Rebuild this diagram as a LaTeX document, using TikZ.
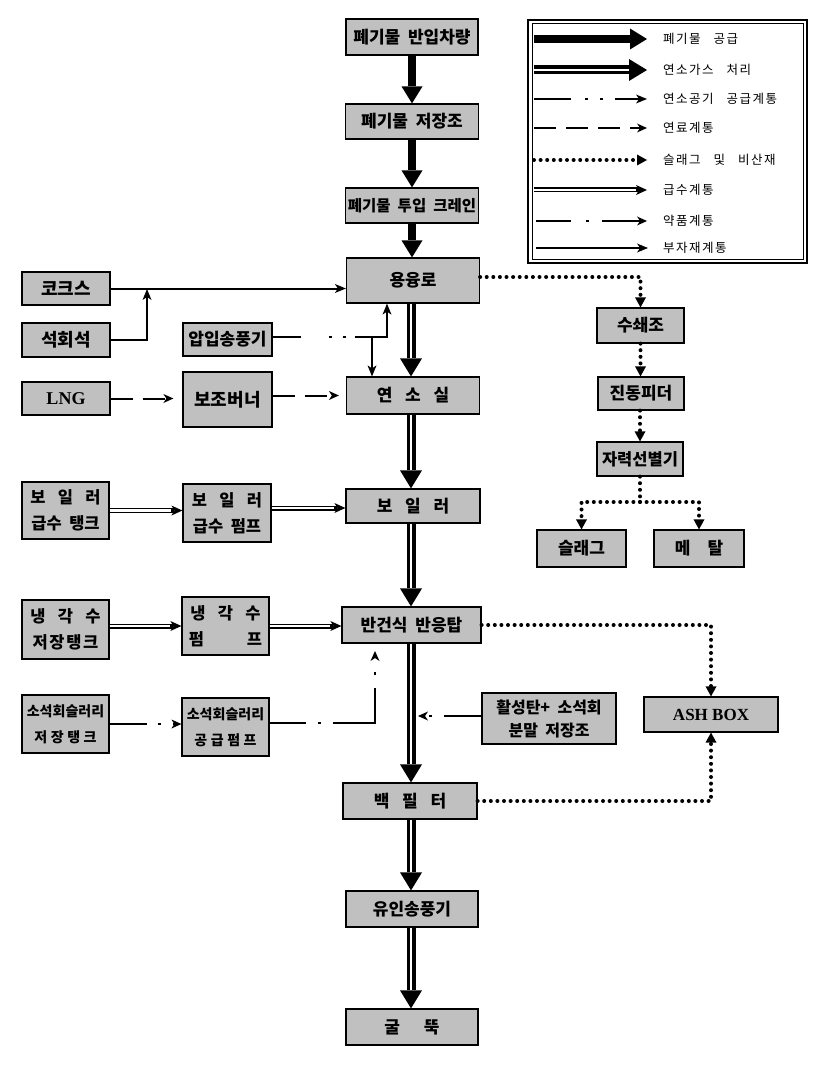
\documentclass[tikz,border=0pt]{standalone}
\usepackage{fontspec}
\usetikzlibrary{arrows.meta}
\newfontfamily\kr{Noto Sans CJK KR}[WordSpace=2]
\newfontfamily\krleg{Noto Sans CJK KR}[WordSpace=3,LetterSpace=12]
\newfontfamily\lat{Liberation Serif}
\newcommand\ws{\hspace{0.75em}}
\definecolor{boxgray}{RGB}{192,192,192}
\tikzset{
  box/.style={draw=black, fill=boxgray, line width=1.2pt, inner sep=0pt, align=center,
    font=\kr\bfseries\fontsize{17}{26}\selectfont},
  waste/.style={line width=8pt, -{Triangle[width=21pt,length=17pt,line width=0pt]}},
  gas/.style={line width=9pt, -{Triangle[width=22pt,length=18pt,line width=0pt]}},
  gasw/.style={white, line width=2.6pt, shorten >=18pt},
  sub/.style={line width=2pt, -{Stealth[length=11pt,width=9pt,inset=3pt,line width=0pt]}},
  water/.style={line width=5pt, -{Stealth[length=11pt,width=10pt,inset=3pt,line width=0pt]}},
  waterw/.style={white, line width=2.6pt, shorten >=11pt},
  airl/.style={line width=2pt, -{Stealth[length=11pt,width=9pt,inset=3pt,line width=0pt]}},
  fuel/.style={line width=2pt, dash pattern=on 22pt off 10pt, -{Stealth[length=10pt,width=9pt,inset=3pt,line width=0pt]}},
  chem/.style={line width=2pt, -{Stealth[length=10pt,width=9pt,inset=3pt,line width=0pt]}},
  dotl/.style={line width=4pt, line cap=round, dash pattern=on 0pt off 6.6pt},
  dota/.style={dotl, -{Triangle[width=11pt,length=10pt,line width=0pt]}},
  legtext/.style={anchor=west, inner sep=0pt, font=\krleg\fontsize{12.5}{14}\selectfont},
  big/.style={font=\kr\bfseries\fontsize{18}{22}\selectfont},
  two/.style={font=\kr\bfseries\fontsize{16.5}{26}\selectfont},
}
\begin{document}
\begin{tikzpicture}[x=1pt,y=-1pt]
\useasboundingbox (0,0) rectangle (821,1067);
\fill[white] (0,0) rectangle (821,1067);

% ---------- nodes ----------
\node[box, minimum width=132pt, minimum height=36pt] (ban) at (412,37) {폐기물 반입차량};
\node[box, minimum width=133pt, minimum height=35pt] (jeo) at (412,121.5) {폐기물 저장조};
\node[box, minimum width=133pt, minimum height=35pt, font=\kr\bfseries\fontsize{15.5}{20}\selectfont] (cra) at (412,205.5) {폐기물 투입 크레인};
\node[box, minimum width=133pt, minimum height=45pt] (yong) at (413,280.5) {용융로};
\node[box, big, minimum width=88pt, minimum height=33pt] (coke) at (66,288.5) {코크스};
\node[box, big, minimum width=88pt, minimum height=34pt] (lime) at (66,340) {석회석};
\node[box, big, minimum width=89pt, minimum height=33pt, font=\kr\bfseries\fontsize{17}{20}\selectfont] (fan) at (227.5,339.5) {압입송풍기};
\node[box, minimum width=88pt, minimum height=33pt, font=\lat\bfseries\fontsize{18}{20}\selectfont] (lng) at (66,398.5) {LNG};
\node[box, big, minimum width=89pt, minimum height=55pt] (burner) at (227.5,399.5) {보조버너};
\node[box, minimum width=133pt, minimum height=37pt] (comb) at (413,395.5) {연\ws 소\ws 실};
\node[box, two, minimum width=87pt, minimum height=57pt] (bwt) at (65.5,510.5) {보\ws 일\ws 러\\급수 탱크};
\node[box, two, minimum width=88pt, minimum height=58pt] (bwp) at (227,513) {보\ws 일\ws 러\\급수 펌프};
\node[box, minimum width=134pt, minimum height=34pt] (boiler) at (413,506) {보\ws 일\ws 러};
\node[box, two, minimum width=87pt, minimum height=59pt] (cwt) at (65.5,629.5) {냉\ws 각\ws 수\\저\hspace{0.1em}장\hspace{0.1em}탱\hspace{0.1em}크};
\node[box, two, minimum width=87pt, minimum height=58pt] (cwp) at (225.5,626) {냉\ws 각\ws 수\\펌\hspace{2.6em}프};
\node[box, minimum width=139pt, minimum height=36pt] (react) at (411.5,625) {반건식 반응탑};
\node[box, minimum width=87pt, minimum height=58pt, font=\kr\bfseries\fontsize{14}{26}\selectfont] (slt) at (65.5,724) {소석회슬러리\\저\hspace{0.25em}장\hspace{0.25em}탱\hspace{0.25em}크};
\node[box, minimum width=87pt, minimum height=58pt, font=\kr\bfseries\fontsize{14}{26}\selectfont] (slp) at (225.5,727) {소석회슬러리\\공\hspace{0.25em}급\hspace{0.25em}펌\hspace{0.25em}프};
\node[box, minimum width=134pt, minimum height=51pt, font=\kr\bfseries\fontsize{16}{23}\selectfont] (act) at (549,718.5) {활성탄+ 소석회\\분말 저장조};
\node[box, minimum width=134pt, minimum height=36pt] (bag) at (410,801) {백\ws 필\ws 터};
\node[box, minimum width=132pt, minimum height=36pt] (ind) at (412,909) {유인송풍기};
\node[box, minimum width=132pt, minimum height=36pt] (stack) at (412,1027) {굴\hspace{1.4em}뚝};
\node[box, minimum width=134pt, minimum height=35pt, font=\lat\bfseries\fontsize{17}{20}\selectfont] (ash) at (711,714.5) {ASH BOX};
\node[box, minimum width=87pt, minimum height=35pt] (su) at (640.5,325.5) {수쇄조};
\node[box, minimum width=86pt, minimum height=33pt] (jin) at (641,393.5) {진동피더};
\node[box, minimum width=86pt, minimum height=34pt, font=\kr\bfseries\fontsize{16.5}{20}\selectfont] (ja) at (640,459) {자력선별기};
\node[box, minimum width=89pt, minimum height=37pt] (slag) at (581.5,548.5) {슬래그};
\node[box, minimum width=90pt, minimum height=37pt] (metal) at (699,548.5) {메\hspace{1em}탈};

% ---------- waste supply ----------
\draw[waste] (ban.south) -- (ban.south |- jeo.north);
\draw[waste] (jeo.south) -- (jeo.south |- cra.north);
\draw[waste] (cra.south) -- (cra.south |- yong.north);

% ---------- flue gas ----------
\foreach \a/\b in {yong/comb, comb/boiler, boiler/react, react/bag, bag/ind, ind/stack}{
  \draw[gas] (411,0 |- \a.south) -- (411,0 |- \b.north);
  \draw[gasw] (411,0 |- \a.south) -- (411,0 |- \b.north);
}

% ---------- sub materials ----------
\coordinate (j1) at (147,289);
\draw[sub] (coke.east) -- (coke.east -| yong.west);
\draw[sub] (lime.east) -| (j1);

% ---------- combustion air ----------
\coordinate (a1) at (387,337);
\coordinate (a2) at (372,337);
\draw[airl, dash pattern=on 28pt off 28pt on 3pt off 11pt on 3pt off 9pt on 300pt]
  (fan.east |- a1) -- (a1) -- (a1 |- yong.south);
\draw[airl] (a2) -- (a2 |- comb.north);

% ---------- fuel ----------
\draw[fuel, shorten >=9pt] (lng.east) -- (lng.east -| burner.west);
\draw[fuel, shorten >=7pt] (burner.east |- comb.west) -- (comb.west);

% ---------- feed water ----------
\draw[water] (bwt.east) -- (bwt.east -| bwp.west);
\draw[waterw] (bwt.east) -- (bwt.east -| bwp.west);
\coordinate (w1) at (271,508);
\draw[water] (bwp.east |- w1) -- (w1 -| boiler.west);
\draw[waterw] (bwp.east |- w1) -- (w1 -| boiler.west);
\draw[water] (cwt.east |- cwp.east) -- (cwp.west);
\draw[waterw] (cwt.east |- cwp.east) -- (cwp.west);
\draw[water] (cwp.east) -- (cwp.east -| react.west);
\draw[waterw] (cwp.east) -- (cwp.east -| react.west);

% ---------- chemicals ----------
\draw[chem, dash pattern=on 37pt off 11pt on 3pt off 12pt on 40pt] (slt.east) -- (slt.east -| slp.west);
\coordinate (c1) at (375,723);
\coordinate (c2) at (375,651);
\draw[chem, dash pattern=on 36pt off 12pt on 3pt off 12pt on 77pt off 13pt on 3pt off 40pt]
  (slp.east |- c1) -- (c1) -- (c2);
\coordinate (c3) at (418,716);
\draw[chem, dash pattern=on 37pt off 12pt on 3pt off 40pt] (act.west |- c3) -- (c3);

% ---------- slag / fly ash ----------
\draw[dota] ([yshift=3.5pt]yong.east) -| (su.north);
\draw[dota] (su.south) -- (su.south |- jin.north);
\draw[dota] (ja.north |- jin.south) -- (ja.north);
\coordinate (s1) at (640,502);
\draw[dotl] (ja.south) -- (s1);
\draw[dota] (s1) -| (slag.north);
\draw[dota] (s1) -| (metal.north);
\draw[dota] (react.east) -| (ash.north);
\draw[dota] (bag.east) -| (ash.south);

% ---------- legend ----------
\draw[line width=1.3pt] (528,20) rectangle (807,263);
\draw[line width=1pt] (532,24) rectangle (803,259);
\coordinate (l1a) at (534,39);  \coordinate (l1b) at (647,39);
\coordinate (l2a) at (534,70);  \coordinate (l2b) at (647,70);
\coordinate (l3a) at (534,99);  \coordinate (l3b) at (647,99);
\coordinate (l4a) at (534,128); \coordinate (l4b) at (647,128);
\coordinate (l5a) at (534,160); \coordinate (l5b) at (647,160);
\coordinate (l6a) at (534,190); \coordinate (l6b) at (647,190);
\coordinate (l7a) at (536,221); \coordinate (l7b) at (647,221);
\coordinate (l8a) at (536,248); \coordinate (l8b) at (648,248);
\draw[waste] (l1a) -- (l1b);
\draw[gas] (l2a) -- (l2b);
\draw[gasw] (l2a) -- (l2b);
\draw[airl, dash pattern=on 37pt off 14pt on 3pt off 12pt on 3pt off 12pt on 60pt] (l3a) -- (l3b);
\draw[fuel, dash pattern=on 22pt off 10pt on 22pt off 10pt on 22pt off 10pt on 20pt off 5pt] (l4a) -- (l4b);
\draw[dota] (l5a) -- (l5b);
\draw[water] (l6a) -- (l6b);
\draw[waterw] (l6a) -- (l6b);
\draw[chem, dash pattern=on 35pt off 15pt on 3pt off 13pt on 60pt] (l7a) -- (l7b);
\draw[sub] (l8a) -- (l8b);
\node[legtext] (t1) at (663,39) {폐기물 공급};
\node[legtext] (t2) at (663,70) {연소가스 처리};
\node[legtext] (t3) at (663,99) {연소공기 공급계통};
\node[legtext] (t4) at (663,128) {연료계통};
\node[legtext] (t5) at (663,160) {슬래그 및 비산재};
\node[legtext] (t6) at (663,190) {급수계통};
\node[legtext] (t7) at (663,221) {약품계통};
\node[legtext] (t8) at (663,248) {부자재계통};
\end{tikzpicture}
\end{document}
